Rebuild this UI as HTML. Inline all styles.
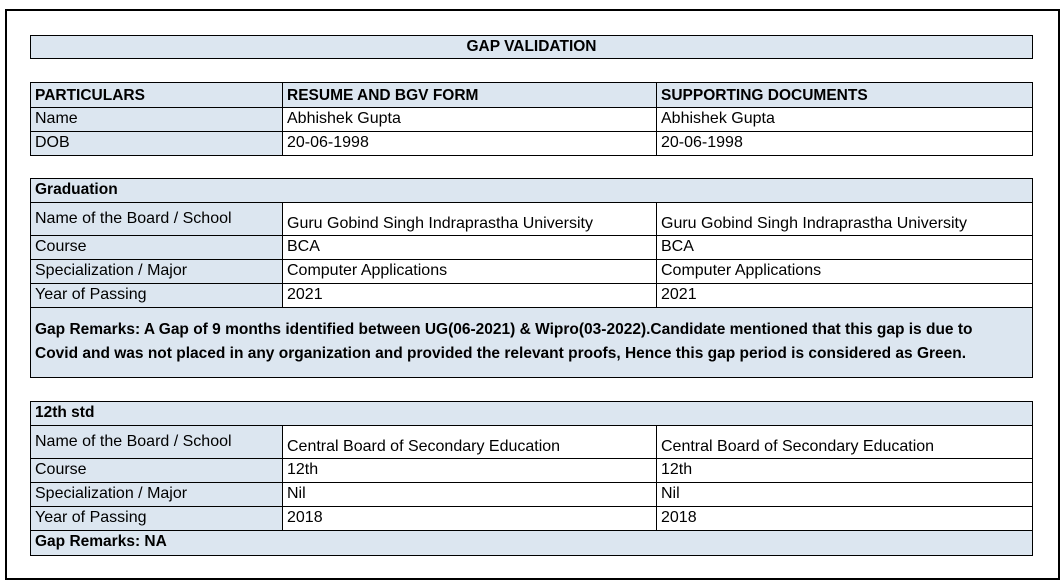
<!DOCTYPE html>
<html><head><meta charset="utf-8"><style>
body{margin:0;width:1063px;height:583px;background:#fff;position:relative;overflow:hidden;font-family:"Liberation Sans",Arial,sans-serif;font-size:16px;color:#000}
.o{position:absolute;left:5px;top:9px;width:1051px;height:567px;border:2px solid #000;box-sizing:content-box}
.c{position:absolute;border:1px solid #000;box-sizing:border-box;padding-left:4px;line-height:22px;white-space:nowrap;overflow:hidden}
.b{background:#dce6f0}
.h{font-weight:bold;font-size:15.5px}
</style></head><body>
<div class="o"></div>
<div class="c b h" style="left:30px;top:35px;width:1003px;height:24px;text-align:center;padding:0">GAP VALIDATION</div>

<div class="c b h" style="left:30px;top:82px;width:253px;height:26px;line-height:26px">PARTICULARS</div>
<div class="c b h" style="left:282px;top:82px;width:375px;height:26px;line-height:26px">RESUME AND BGV FORM</div>
<div class="c b h" style="left:656px;top:82px;width:377px;height:26px;line-height:26px">SUPPORTING DOCUMENTS</div>
<div class="c b" style="left:30px;top:107px;width:253px;height:25px">Name</div>
<div class="c" style="left:282px;top:107px;width:375px;height:25px">Abhishek Gupta</div>
<div class="c" style="left:656px;top:107px;width:377px;height:25px">Abhishek Gupta</div>
<div class="c b" style="left:30px;top:131px;width:253px;height:25px">DOB</div>
<div class="c" style="left:282px;top:131px;width:375px;height:25px">20-06-1998</div>
<div class="c" style="left:656px;top:131px;width:377px;height:25px">20-06-1998</div>

<div class="c b h" style="left:30px;top:178px;width:1003px;height:25px">Graduation</div>
<div class="c b" style="left:30px;top:202px;width:253px;height:34px;line-height:32px">Name of the Board / School</div>
<div class="c" style="left:282px;top:202px;width:375px;height:34px;line-height:42px">Guru Gobind Singh Indraprastha University</div>
<div class="c" style="left:656px;top:202px;width:377px;height:34px;line-height:42px">Guru Gobind Singh Indraprastha University</div>
<div class="c b" style="left:30px;top:235px;width:253px;height:25px">Course</div>
<div class="c" style="left:282px;top:235px;width:375px;height:25px">BCA</div>
<div class="c" style="left:656px;top:235px;width:377px;height:25px">BCA</div>
<div class="c b" style="left:30px;top:259px;width:253px;height:25px">Specialization / Major</div>
<div class="c" style="left:282px;top:259px;width:375px;height:25px">Computer Applications</div>
<div class="c" style="left:656px;top:259px;width:377px;height:25px">Computer Applications</div>
<div class="c b" style="left:30px;top:283px;width:253px;height:25px">Year of Passing</div>
<div class="c" style="left:282px;top:283px;width:375px;height:25px">2021</div>
<div class="c" style="left:656px;top:283px;width:377px;height:25px">2021</div>
<div class="c b h" style="left:30px;top:307px;width:1003px;height:71px;white-space:normal;line-height:24px;padding-top:10px;padding-right:4px">Gap Remarks: A Gap of 9 months identified between UG(06-2021) &amp; Wipro(03-2022).Candidate mentioned that this gap is due to<br>Covid and was not placed in any organization and provided the relevant proofs, Hence this gap period is considered as Green.</div>

<div class="c b h" style="left:30px;top:401px;width:1003px;height:25px">12th std</div>
<div class="c b" style="left:30px;top:425px;width:253px;height:34px;line-height:32px">Name of the Board / School</div>
<div class="c" style="left:282px;top:425px;width:375px;height:34px;line-height:42px">Central Board of Secondary Education</div>
<div class="c" style="left:656px;top:425px;width:377px;height:34px;line-height:42px">Central Board of Secondary Education</div>
<div class="c b" style="left:30px;top:458px;width:253px;height:25px">Course</div>
<div class="c" style="left:282px;top:458px;width:375px;height:25px">12th</div>
<div class="c" style="left:656px;top:458px;width:377px;height:25px">12th</div>
<div class="c b" style="left:30px;top:482px;width:253px;height:25px">Specialization / Major</div>
<div class="c" style="left:282px;top:482px;width:375px;height:25px">Nil</div>
<div class="c" style="left:656px;top:482px;width:377px;height:25px">Nil</div>
<div class="c b" style="left:30px;top:506px;width:253px;height:25px">Year of Passing</div>
<div class="c" style="left:282px;top:506px;width:375px;height:25px">2018</div>
<div class="c" style="left:656px;top:506px;width:377px;height:25px">2018</div>
<div class="c b h" style="left:30px;top:530px;width:1003px;height:26px">Gap Remarks: NA</div>
</body></html>
